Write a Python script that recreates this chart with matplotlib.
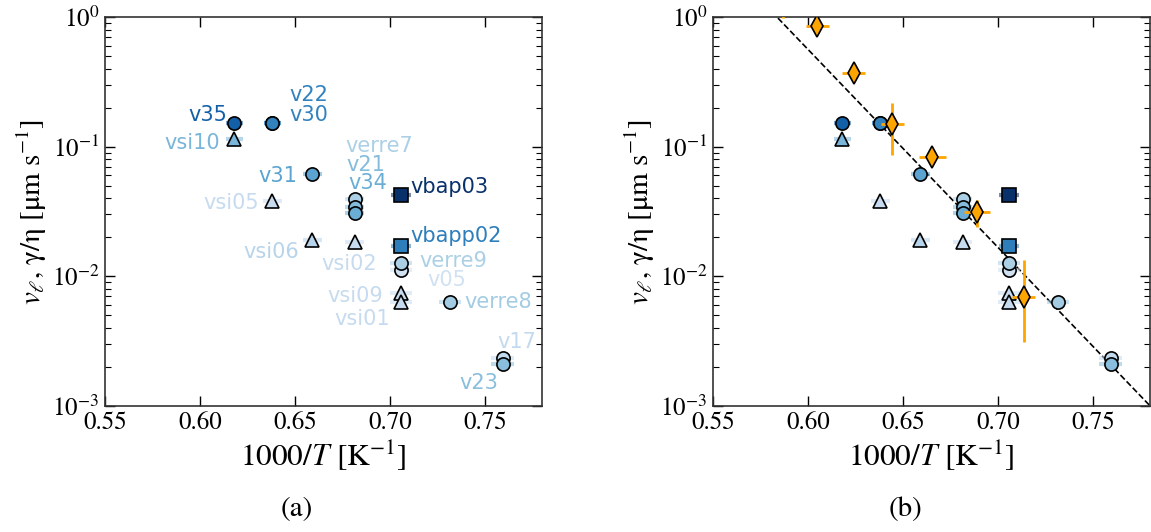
import matplotlib
matplotlib.use('Agg')
import matplotlib.pyplot as plt
import numpy as np

plt.rcParams['font.family'] = 'STIXGeneral'
plt.rcParams['mathtext.fontset'] = 'stix'

# glass samples: name, 1000/T, velocity, error on 1000/T, marker, colour
names = ['v35', 'vsi10', 'v22', 'v30', 'v31', 'vsi05', 'verre7', 'v21', 'v34',
         'vbap03', 'vsi06', 'vsi02', 'vbapp02', 'v05', 'verre9', 'vsi09', 'vsi01',
         'verre8', 'v17', 'v23']
inv_T = [0.618, 0.618, 0.638, 0.638, 0.659, 0.638, 0.6815, 0.6815, 0.6815,
         0.7058, 0.659, 0.6815, 0.7058, 0.7058, 0.7058, 0.7058, 0.7058,
         0.7316, 0.7594, 0.7594]
rate = [0.151, 0.115, 0.151, 0.151, 0.0616, 0.0381, 0.0393, 0.0345, 0.0306,
        0.0422, 0.0191, 0.0185, 0.0172, 0.0112, 0.01276, 0.00741, 0.00631,
        0.00631, 0.00233, 0.00211]
inv_T_err = [0.0045, 0.0045, 0.0045, 0.0045, 0.005, 0.005, 0.005, 0.005, 0.005,
             0.0053, 0.005, 0.005, 0.0053, 0.006, 0.006, 0.006, 0.006,
             0.006, 0.006, 0.006]
markers = ['o', '^', 'o', 'o', 'o', '^', 'o', 'o', 'o', 's', '^', '^', 's',
           'o', 'o', '^', '^', 'o', 'o', 'o']
colors = ['#1460a8', '#7ab6d9', '#3282be', '#3282be', '#5ba3d0', '#c6dbef',
          '#abd0e6', '#85bcdc', '#6aaed6', '#08306b', '#b7d4ea', '#c6dbef',
          '#2e7ebc', '#d0e1f2', '#abd0e6', '#c6dbef', '#c6dbef', '#a3cce3',
          '#c3daee', '#89bedc']

# label offsets (pixels) and alignment for panel (a)
label_dx = [-7, -14, 17, 17, -15, -13, -9, -8, -6, 9, -13, -6, 9, 26, 18, -18, -11, 14, -5, -5]
label_dy = [8, -4, 28, 8, -2, -2, 53, 42, 30, 8, -12, -22, 10, -10, 2, -3, -17, 0, 16, -19]
label_ha = ['right', 'right', 'left', 'left', 'right', 'right', 'left', 'left', 'left',
            'left', 'right', 'center', 'left', 'left', 'left', 'right', 'right',
            'left', 'left', 'right']

# growth rate gamma/eta (orange diamonds)
gr_inv_T = [0.587, 0.605, 0.624, 0.6443, 0.6655, 0.689, 0.7135]
gr_rate = [1.3, 0.852, 0.372, 0.150, 0.0838, 0.0314, 0.00698]
gr_xerr = [0.006, 0.006, 0.006, 0.006, 0.007, 0.007, 0.006]
gr_yerr_lo = [0.32, 0.06, 0.03, 0.064, 0.008, 0.0072, 0.00384]
gr_yerr_hi = [0.3, 0.06, 0.03, 0.066, 0.008, 0.0074, 0.0064]

# Arrhenius fit: log10(v) = a + b * 1000/T
fit_a = 8.912
fit_b = -15.27


def draw_samples(ax):
    for i in range(len(names)):
        ax.errorbar(inv_T[i], rate[i], xerr=inv_T_err[i], fmt='none',
                    ecolor=colors[i], elinewidth=3, alpha=0.55, zorder=2)
        ax.plot(inv_T[i], rate[i], marker=markers[i], ls='none', ms=9.5,
                mfc=colors[i], mec='black', mew=1.2, zorder=3)


def style_axes(ax):
    ax.set_yscale('log')
    ax.set_xlim(0.55, 0.78)
    ax.set_ylim(1e-3, 1)
    ax.set_xticks([0.55, 0.60, 0.65, 0.70, 0.75])
    ax.set_xticklabels(['0.55', '0.60', '0.65', '0.70', '0.75'])
    ax.tick_params(which='both', direction='in', top=True, right=True, labelsize=18)
    ax.tick_params(which='major', length=7, width=1)
    ax.tick_params(which='minor', length=4, width=0.8)
    ax.tick_params(axis='y', pad=4)
    for s in ax.spines.values():
        s.set_color('#333333')
        s.set_linewidth(1.2)
    ax.set_xlabel(r'$1000/T\ [\mathrm{K}^{-1}]$', fontsize=22.5, labelpad=2)
    ax.set_ylabel(r'$v_\ell$, γ/η [μm s$^{-1}$]', fontsize=21, labelpad=2)


fig = plt.figure(figsize=(11.51, 5.32), dpi=100)
ax1 = fig.add_axes([105 / 1151, 1 - 406 / 532, 437 / 1151, 389 / 532])
ax2 = fig.add_axes([713 / 1151, 1 - 406 / 532, 437 / 1151, 389 / 532])

# (a) samples with labels
draw_samples(ax1)
for i in range(len(names)):
    ax1.annotate(names[i], (inv_T[i], rate[i]), xytext=(label_dx[i], label_dy[i]),
                 textcoords='offset pixels', ha=label_ha[i], va='center',
                 color=colors[i], fontsize=15, family='DejaVu Sans', zorder=4)
style_axes(ax1)

# (b) samples with growth rate and fit
draw_samples(ax2)
ax2.errorbar(gr_inv_T, gr_rate, xerr=gr_xerr, yerr=[gr_yerr_lo, gr_yerr_hi],
             fmt='d', color='orange', ecolor='orange', elinewidth=2, ms=11,
             mfc='orange', mec='black', mew=1.2, zorder=3)
xfit = np.array([0.55, 0.78])
ax2.plot(xfit, 10 ** (fit_a + fit_b * xfit), ls='--', color='black', lw=1.2, zorder=1)
style_axes(ax2)

fig.text(297 / 1151, 1 - 509 / 532, '(a)', ha='center', va='center', fontsize=21)
fig.text(905 / 1151, 1 - 509 / 532, '(b)', ha='center', va='center', fontsize=21)

fig.savefig('out.png', dpi=100)
